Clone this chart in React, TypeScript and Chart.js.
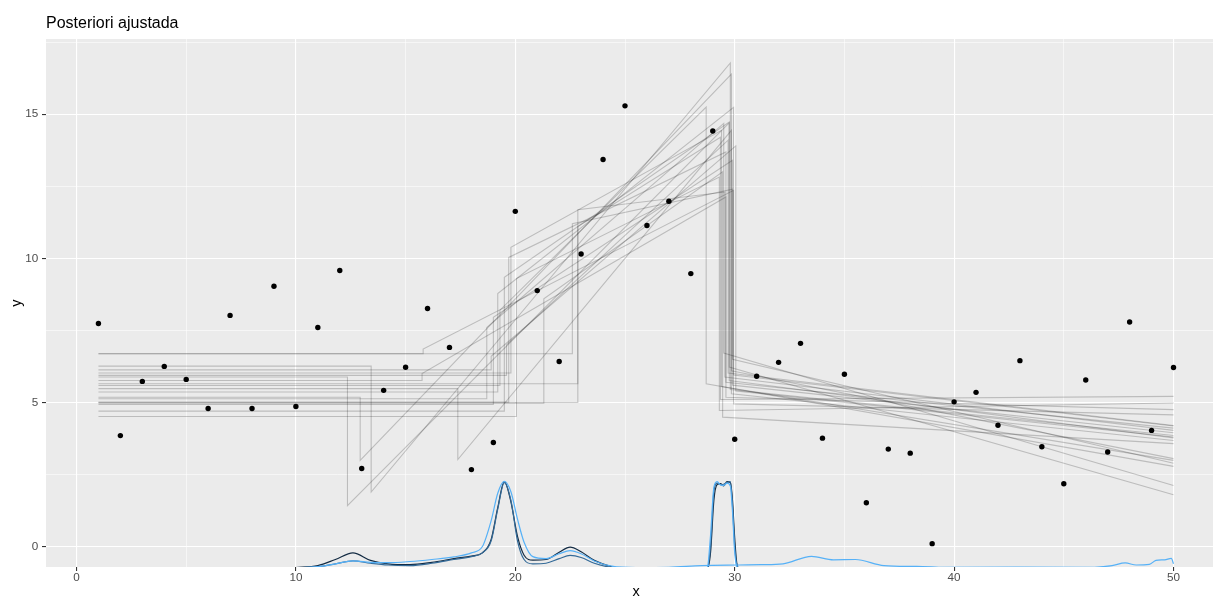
import React, { useEffect, useRef } from "react";
import { Chart, registerables } from "chart.js";

Chart.register(...registerables);

const FONT = '"Liberation Sans", Arial, Helvetica, sans-serif';

// Observed data
const obsX = [1, 2, 3, 4, 5, 6, 7, 8, 9, 10, 11, 12, 13, 14, 15, 16, 17, 18, 19, 20, 21, 22, 23, 24, 25, 26, 27, 28, 29, 30, 31, 32, 33, 34, 35, 36, 37, 38, 39, 40, 41, 42, 43, 44, 45, 46, 47, 48, 49, 50];
const obsY = [7.74, 3.85, 5.73, 6.25, 5.8, 4.79, 8.02, 4.79, 9.03, 4.86, 7.6, 9.58, 2.71, 5.42, 6.22, 8.26, 6.91, 2.67, 3.61, 11.63, 8.88, 6.42, 10.15, 13.43, 15.29, 11.14, 11.98, 9.47, 14.42, 3.72, 5.91, 6.39, 7.05, 3.76, 5.98, 1.52, 3.38, 3.24, 0.1, 5.02, 5.35, 4.21, 6.45, 3.46, 2.18, 5.78, 3.28, 7.79, 4.03, 6.21];

// Posterior sample lines (piecewise: constant, linear, linear)
const lineLevel1 = [5.88, 5.18, 6.26, 6.69, 5.76, 5.48, 5.13, 4.93, 5.36, 4.7, 5.01, 6.02, 4.51, 4.97, 6.69, 5.65, 5.0, 5.59, 5.94, 6.13];
const lineTau1 = [12.35, 12.93, 13.43, 15.8, 15.75, 17.38, 18.7, 19.0, 19.2, 19.5, 19.7, 19.8, 20.05, 21.3, 22.6, 22.85, 22.85, 19.3, 19.6, 18.9];
const lineStart2 = [1.42, 2.99, 1.89, 6.85, 6.0, 3.02, 7.6, 7.95, 8.78, 9.34, 10.03, 10.38, 9.3, 8.6, 11.2, 11.69, 11.1, 8.2, 7.0, 6.6];
const lineTau2 = [29.75, 29.85, 29.8, 29.95, 29.6, 29.85, 29.5, 29.9, 29.95, 29.75, 29.6, 29.4, 29.3, 29.45, 29.9, 29.55, 29.35, 28.7, 29.7, 30.05];
const lineEnd2 = [14.7, 16.39, 16.78, 12.36, 12.13, 14.44, 14.68, 13.4, 15.24, 14.73, 13.69, 14.44, 12.82, 13.0, 12.4, 12.3, 14.2, 15.25, 14.1, 13.9];
const lineStart3 = [5.76, 5.3, 5.45, 4.95, 5.18, 6.1, 6.71, 5.6, 5.95, 6.23, 5.7, 5.55, 4.72, 4.49, 6.5, 5.88, 5.1, 5.65, 6.02, 5.4];
const lineEnd3 = [3.77, 3.68, 3.85, 4.57, 4.75, 3.05, 2.12, 3.95, 4.18, 1.8, 4.11, 2.99, 4.98, 3.57, 2.89, 4.03, 5.21, 2.78, 4.2, 3.8];

// Density curves of first change point, per chain
const tau1DensX = [1, 9, 10, 11, 11.8, 12.6, 13.4, 14.2, 15.2, 16.2, 17.2, 18, 18.5, 18.9, 19.2, 19.5, 19.8, 20.1, 20.4, 20.8, 21.4, 22, 22.5, 23, 23.6, 24.4, 25.5, 27, 28.5, 30.2, 31.2, 32.2, 33.5, 34.5, 35.5, 36.8, 38.3, 39.3, 46.4, 47.2, 47.8, 48.3, 48.9, 49.2, 49.6, 49.9, 50];
const tau1DensChain1 = [-0.8, -0.78, -0.73, -0.66, -0.45, -0.22, -0.48, -0.6, -0.63, -0.55, -0.42, -0.33, -0.22, 0.25, 1.35, 2.25, 1.55, 0.35, -0.3, -0.47, -0.45, -0.2, -0.02, -0.18, -0.48, -0.7, -0.8, -0.8, -0.8, -0.8, -0.8, -0.8, -0.8, -0.8, -0.8, -0.8, -0.8, -0.8, -0.8, -0.8, -0.8, -0.8, -0.8, -0.8, -0.8, -0.8, -0.8];
const tau1DensChain2 = [-0.8, -0.78, -0.74, -0.7, -0.6, -0.5, -0.58, -0.64, -0.66, -0.58, -0.45, -0.35, -0.22, 0.2, 1.3, 2.22, 1.6, 0.2, -0.45, -0.6, -0.58, -0.42, -0.31, -0.38, -0.58, -0.73, -0.8, -0.8, -0.8, -0.8, -0.8, -0.8, -0.8, -0.8, -0.8, -0.8, -0.8, -0.8, -0.8, -0.8, -0.8, -0.8, -0.8, -0.8, -0.8, -0.8, -0.8];
const tau1DensChain3 = [-0.8, -0.78, -0.74, -0.7, -0.6, -0.5, -0.55, -0.56, -0.52, -0.45, -0.36, -0.22, 0.0, 0.9, 1.85, 2.26, 1.9, 0.95, 0.15, -0.35, -0.42, -0.25, -0.14, -0.25, -0.5, -0.68, -0.73, -0.72, -0.66, -0.64, -0.63, -0.6, -0.34, -0.46, -0.45, -0.66, -0.69, -0.72, -0.72, -0.66, -0.57, -0.64, -0.62, -0.48, -0.46, -0.41, -0.6];

// Density curves of second change point, per chain
const tau2DensX = [28.5, 28.75, 28.9, 29.05, 29.2, 29.35, 29.5, 29.65, 29.8, 29.9, 30.0, 30.1, 30.25, 30.5];
const tau2DensChain1 = [-0.8, -0.78, -0.2, 1.6, 2.15, 2.18, 2.1, 2.25, 2.22, 1.6, 0.3, -0.6, -0.8, -0.8];
const tau2DensChain2 = [-0.8, -0.77, 0.0, 1.9, 2.2, 2.15, 2.16, 2.22, 2.25, 1.4, 0.0, -0.65, -0.8, -0.8];
const tau2DensChain3 = [-0.8, -0.74, 0.4, 2.05, 2.25, 2.14, 2.12, 2.2, 2.1, 1.2, -0.2, -0.7, -0.8, -0.8];

const chainColors = ["#132B43", "#336A98", "#56B1F7"];

const xTickValues = [0, 5, 10, 15, 20, 25, 30, 35, 40, 45, 50];
const xTickLabels = [0, 10, 20, 30, 40, 50];
const yTickValues = [0, 2.5, 5, 7.5, 10, 12.5, 15, 17.5];
const yTickLabels = [0, 5, 10, 15];

const titleText = "Posteriori ajustada";
const xTitle = "x";
const yTitle = "y";

const panelPlugin = {
  id: "panelPlugin",
  beforeDraw(chart: any) {
    const { ctx, chartArea: a } = chart;
    ctx.save();
    ctx.fillStyle = "#EBEBEB";
    ctx.fillRect(a.left, a.top, a.right - a.left, a.bottom - a.top);
    ctx.restore();
  },
  afterDraw(chart: any) {
    const { ctx } = chart;
    ctx.save();
    ctx.fillStyle = "#000000";
    ctx.font = `16px ${FONT}`;
    ctx.textAlign = "left";
    ctx.textBaseline = "alphabetic";
    ctx.fillText(titleText, 46, 28);
    ctx.font = `14.5px ${FONT}`;
    ctx.textAlign = "center";
    ctx.textBaseline = "middle";
    ctx.fillText(xTitle, 636, 592);
    ctx.translate(17, 303);
    ctx.rotate(-Math.PI / 2);
    ctx.fillText(yTitle, 0, 0);
    ctx.restore();
  },
};

export default function App() {
  const ref = useRef<HTMLCanvasElement | null>(null);

  useEffect(() => {
    if (!ref.current) return;
    const datasets: any[] = [];

    datasets.push({
      data: obsX.map((x, i) => ({ x, y: obsY[i] })),
      showLine: false,
      pointRadius: 2.7,
      pointBackgroundColor: "#000000",
      pointBorderWidth: 0,
      borderColor: "#000000",
      order: 0,
    });

    const densSets = [
      [tau1DensX, tau1DensChain1, 0],
      [tau1DensX, tau1DensChain2, 1],
      [tau1DensX, tau1DensChain3, 2],
      [tau2DensX, tau2DensChain1, 0],
      [tau2DensX, tau2DensChain2, 1],
      [tau2DensX, tau2DensChain3, 2],
    ] as [number[], number[], number][];
    densSets.forEach(([xs, ys, c]) => {
      datasets.push({
        data: xs.map((x, i) => ({ x, y: ys[i] })),
        borderColor: chainColors[c],
        borderWidth: 1.2,
        pointRadius: 0,
        cubicInterpolationMode: "monotone",
        clip: 0,
        order: 3 - c,
      });
    });

    const xFirst = obsX[0];
    const xLast = obsX[obsX.length - 1];
    lineLevel1.forEach((lvl, i) => {
      datasets.push({
        data: [
          { x: xFirst, y: lvl },
          { x: lineTau1[i], y: lvl },
          { x: lineTau1[i], y: lineStart2[i] },
          { x: lineTau2[i], y: lineEnd2[i] },
          { x: lineTau2[i], y: lineStart3[i] },
          { x: xLast, y: lineEnd3[i] },
        ],
        borderColor: "rgba(0,0,0,0.2)",
        borderWidth: 1.1,
        pointRadius: 0,
        tension: 0,
        order: 10,
      });
    });

    const isMajorX = (v: number) => xTickLabels.includes(v);
    const isMajorY = (v: number) => yTickLabels.includes(v);

    const chart = new Chart(ref.current, {
      type: "line",
      data: { datasets },
      plugins: [panelPlugin],
      options: {
        animation: false,
        responsive: false,
        devicePixelRatio: 1,
        layout: { autoPadding: false, padding: { top: 39, left: 0, right: 0, bottom: 0 } },
        plugins: { legend: { display: false }, tooltip: { enabled: false }, title: { display: false } },
        scales: {
          x: {
            type: "linear",
            min: -1.39,
            max: 51.8,
            afterBuildTicks: (s: any) => {
              s.ticks = xTickValues.map((v) => ({ value: v }));
            },
            afterFit: (s: any) => {
              s.height = 30;
              s.paddingLeft = 0;
              s.paddingRight = 0;
            },
            border: { display: false },
            grid: {
              color: "#FFFFFF",
              lineWidth: (c: any) => (c.tick && isMajorX(c.tick.value) ? 1.1 : 0.55),
              tickColor: (c: any) => (c.tick && isMajorX(c.tick.value) ? "#333333" : "rgba(0,0,0,0)"),
              tickWidth: 1.1,
              tickLength: 4,
            },
            ticks: {
              autoSkip: false,
              maxRotation: 0,
              padding: 0,
              color: "#4D4D4D",
              font: { family: FONT, size: 11.7 },
              callback: (v: any) => (isMajorX(Number(v)) ? String(v) : ""),
            },
          },
          y: {
            type: "linear",
            min: -0.71,
            max: 17.61,
            afterBuildTicks: (s: any) => {
              s.ticks = yTickValues.map((v) => ({ value: v }));
            },
            afterFit: (s: any) => {
              s.width = 46;
              s.paddingTop = 0;
              s.paddingBottom = 0;
            },
            border: { display: false },
            grid: {
              color: "#FFFFFF",
              lineWidth: (c: any) => (c.tick && isMajorY(c.tick.value) ? 1.1 : 0.55),
              tickColor: (c: any) => (c.tick && isMajorY(c.tick.value) ? "#333333" : "rgba(0,0,0,0)"),
              tickWidth: 1.1,
              tickLength: 4,
            },
            ticks: {
              autoSkip: false,
              padding: 3.7,
              color: "#4D4D4D",
              font: { family: FONT, size: 11.7 },
              callback: (v: any) => (isMajorY(Number(v)) ? String(v) : ""),
            },
          },
        },
      },
    } as any);

    return () => chart.destroy();
  }, []);

  return (
    <div style={{ position: "absolute", left: 0, top: 0, width: 1213, height: 597, background: "#FFFFFF" }}>
      <canvas ref={ref} width={1213} height={597} style={{ display: "block" }} />
    </div>
  );
}
